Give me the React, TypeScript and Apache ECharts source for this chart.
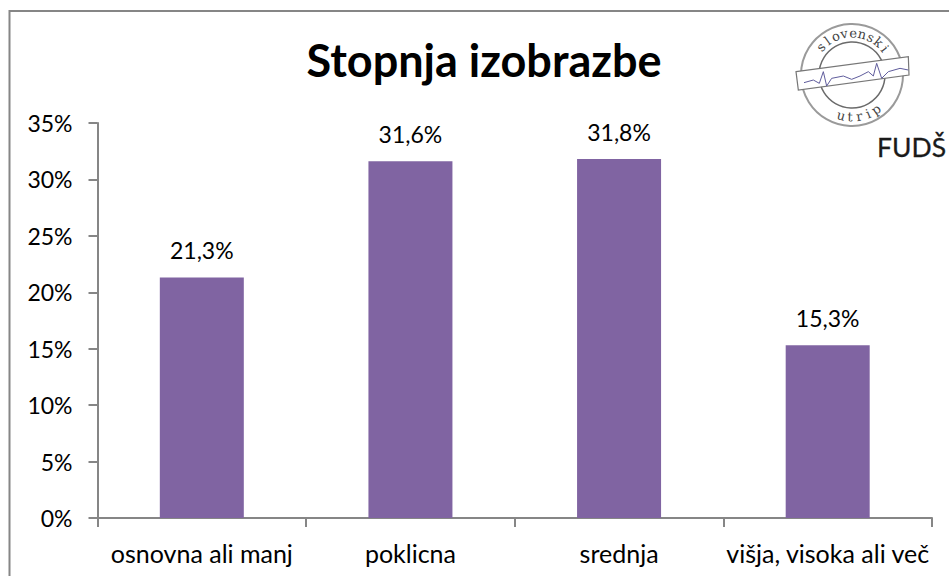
import React, { useEffect, useRef } from "react";
import * as echarts from "echarts";

const categories = ["osnovna ali manj", "poklicna", "srednja", "višja, visoka ali več"];
const values = [21.3, 31.6, 31.8, 15.3];
const titleText = "Stopnja izobrazbe";
const topWord = "slovenski";
const bottomWord = "utrip";
const FONT = "Lato, Carlito, sans-serif";

const zx = (v: number) => 760 + v / 3;
const zy = (v: number) => v / 3;
const pulse = [[132,248],[160,240],[178,250],[190,215],[200,258],[215,235],[250,228],[275,238],[300,228],[325,215],[340,228],[350,190],[365,235],[385,215],[420,205],[445,210]];
const band = [[108,215],[445,170],[447,225],[115,270]];

function logo() {
  const cx = 852, cy = 75, r = 42;
  const letterFont = "13px 'DejaVu Serif', serif";
  const els: any[] = [
    { type: "circle", shape: { cx, cy, r: 51 }, style: { fill: "#fff", stroke: "#9a9a9a", lineWidth: 2 } },
    { type: "circle", shape: { cx, cy, r: 33 }, style: { fill: "#fff", stroke: "#6a6a6a", lineWidth: 1.5 } },
    { type: "polygon", shape: { points: band.map(([x, y]) => [zx(x), zy(y)]) }, style: { fill: "#fff", stroke: "#777", lineWidth: 1.2 } },
    { type: "polyline", shape: { points: pulse.map(([x, y]) => [zx(x), zy(y)]) }, style: { fill: "none", stroke: "#5f5c9c", lineWidth: 1 } },
  ];
  topWord.split("").forEach((ch, i) => {
    const a = ((-48 + i * 12.4) * Math.PI) / 180;
    els.push({ type: "text", x: cx + r * Math.sin(a), y: cy - r * Math.cos(a), rotation: -a,
      style: { text: ch, font: letterFont, fill: "#444", align: "center", verticalAlign: "middle" } });
  });
  bottomWord.split("").forEach((ch, i) => {
    const b = ((-15 + i * 12.5) * Math.PI) / 180;
    els.push({ type: "text", x: cx + r * Math.sin(b), y: cy + r * Math.cos(b), rotation: b,
      style: { text: ch, font: letterFont, fill: "#444", align: "center", verticalAlign: "middle" } });
  });
  els.push({ type: "text", x: 877, y: 147, style: { text: "FUDŠ", font: `26.5px ${FONT}`, fill: "#1a1a1a", stroke: "#1a1a1a", lineWidth: 0.3, align: "left", verticalAlign: "middle" } });
  return els;
}

export default function App() {
  const ref = useRef<HTMLDivElement>(null);
  useEffect(() => {
    document.body.style.margin = "0";
    const chart = echarts.init(ref.current!, undefined, { renderer: "svg" });
    const lineStyle = { color: "#868686", width: 2 };
    chart.setOption({
      animation: false,
      backgroundColor: "#fff",
      title: { text: titleText, left: 479, top: 32, textAlign: "center",
        textStyle: { fontFamily: FONT, fontSize: 45, fontWeight: "bold", color: "#000" } },
      grid: { left: 97.5, right: 17, top: 123, bottom: 58 },
      xAxis: { type: "category", data: categories,
        axisLine: { lineStyle }, axisTick: { show: true, length: 9, lineStyle, alignWithLabel: false, interval: 0 },
        axisLabel: { interval: 0, fontFamily: FONT, fontSize: 25, color: "#000", margin: 22 } },
      yAxis: { type: "value", min: 0, max: 35, interval: 5,
        splitLine: { show: false },
        axisLine: { show: true, lineStyle }, axisTick: { show: true, length: 9, lineStyle },
        axisLabel: { fontFamily: FONT, fontSize: 23, color: "#000", margin: 25, padding: [0, 0, 4, 0], verticalAlign: "middle", lineHeight: 20, formatter: "{value}%" } },
      series: [{ type: "bar", data: values, barWidth: 84, itemStyle: { color: "#8064A2" },
        label: { show: true, position: "top", distance: 16, fontFamily: FONT, fontSize: 23, color: "#000",
          formatter: (p: any) => p.value.toFixed(1).replace(".", ",") + "%" } }],
      graphic: [
        { type: "polyline", silent: true, shape: { points: [[9.5, 576], [9.5, 11], [949, 11]] }, style: { fill: "none", stroke: "#868686", lineWidth: 2 } },
        ...logo(),
      ],
    });
    return () => chart.dispose();
  }, []);
  return <div ref={ref} style={{ width: 949, height: 576 }} />;
}
